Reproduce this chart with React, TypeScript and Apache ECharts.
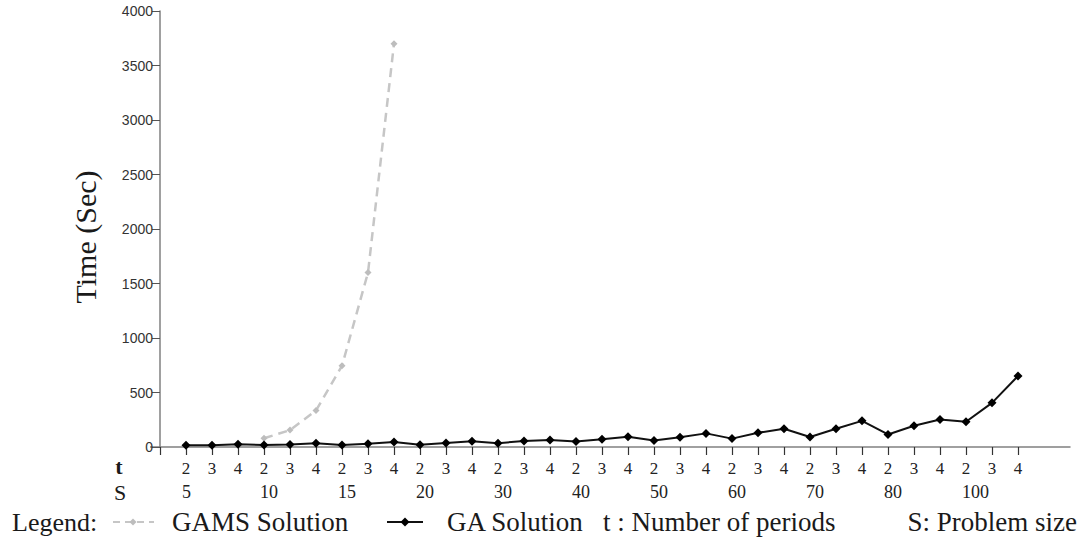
import React, { useEffect, useRef } from "react";
import * as echarts from "echarts";

// Problem sizes (S) and number of periods (t)
const S_SIZES = [5, 10, 15, 20, 30, 40, 50, 60, 70, 80, 100];
const T_PERIODS = [2, 3, 4];

// Solution time (sec), one value per (S, t) pair, in order S then t
const GA_TIME = [
  15, 15, 25,
  18, 22, 35,
  18, 30, 46,
  20, 37, 52,
  35, 55, 65,
  50, 72, 93,
  60, 90, 125,
  77, 130, 168,
  92, 168, 240,
  115, 195, 252,
  232, 405, 651,
];
const GAMS_TIME: (number | null)[] = [
  null, null, null,
  80, 155, 335,
  745, 1600, 3700,
  null, null, null,
  null, null, null,
  null, null, null,
  null, null, null,
  null, null, null,
  null, null, null,
  null, null, null,
  null, null, null,
];

const Y_MIN = 0;
const Y_MAX = 4000;
const Y_STEP = 500;

const SERIF = '"Liberation Serif", "Times New Roman", serif';
const SANS = '"Liberation Sans", Arial, sans-serif';

export default function App() {
  const ref = useRef<HTMLDivElement>(null);

  useEffect(() => {
    if (!ref.current) return;
    const chart = echarts.init(ref.current, undefined, { renderer: "svg" });

    const dataCats: string[] = [];
    S_SIZES.forEach((s) => T_PERIODS.forEach((t) => dataCats.push(`${s}-${t}`)));
    const cats = ["p0", ...dataCats, "p1", "p2"];
    const pad = (arr: (number | null)[]) => [null, ...arr, null, null];

    const isPad = (v: string) => v.startsWith("p");

    const diamond = (cx: number, cy: number, r: number) => [
      [cx, cy - r],
      [cx + r, cy],
      [cx, cy + r],
      [cx - r, cy],
    ];

    const legendY = 522;
    const txt = (
      text: string,
      x: number,
      y: number,
      size = 27,
      weight = "normal",
      align = "left"
    ) => ({
      type: "text",
      x,
      y,
      style: {
        text,
        fill: "#1a1a1a",
        font: `${weight} ${size}px ${SERIF}`,
        textVerticalAlign: "middle",
        textAlign: align,
      },
    });

    chart.setOption({
      animation: false,
      backgroundColor: "#ffffff",
      grid: {
        left: 160,
        right: 14,
        top: 11,
        bottom: 95,
        outerBoundsMode: "none",
      },
      xAxis: [
        {
          type: "category",
          data: cats,
          boundaryGap: false,
          position: "bottom",
          axisLine: { lineStyle: { color: "#808080", width: 1.5 } },
          axisTick: {
            interval: (_i: number, v: string) => !isPad(v) || v === "p0",
            length: 8,
            lineStyle: { color: "#333", width: 1.2 },
          },
          axisLabel: {
            interval: 0,
            formatter: (v: string) => (isPad(v) ? "" : v.split("-")[1]),
            fontFamily: SERIF,
            fontSize: 17,
            color: "#222",
            margin: 13,
          },
          splitLine: { show: false },
        },
        {
          type: "category",
          data: cats,
          boundaryGap: false,
          position: "bottom",
          axisLine: { show: false },
          axisTick: { show: false },
          axisLabel: {
            interval: 0,
            formatter: (v: string) => {
              if (isPad(v)) return "";
              const [s, t] = v.split("-");
              return t === String(T_PERIODS[0]) ? s : "";
            },
            align: "left",
            padding: [0, 0, 0, -4],
            fontFamily: SERIF,
            fontSize: 18,
            color: "#222",
            margin: 36,
          },
          splitLine: { show: false },
        },
      ],
      yAxis: {
        type: "value",
        min: Y_MIN,
        max: Y_MAX,
        interval: Y_STEP,
        name: "Time (Sec)",
        nameLocation: "middle",
        nameGap: 60,
        nameTextStyle: {
          fontFamily: SERIF,
          fontSize: 30,
          color: "#1a1a1a",
          padding: [0, 16, 0, 0],
        },
        axisLine: { show: true, lineStyle: { color: "#808080", width: 1.5 } },
        axisTick: { show: true, length: 8, lineStyle: { color: "#555" } },
        axisLabel: {
          fontFamily: SANS,
          fontSize: 14,
          color: "#333",
          margin: 7,
          formatter: (v: number) => String(v),
        },
        splitLine: { show: false },
      },
      series: [
        {
          name: "GAMS Solution",
          type: "line",
          data: pad(GAMS_TIME),
          connectNulls: false,
          symbol: "diamond",
          symbolSize: 7,
          itemStyle: { color: "#bdbdbd" },
          lineStyle: { color: "#c6c6c6", width: 2.5, type: [9, 6] },
          z: 2,
        },
        {
          name: "GA Solution",
          type: "line",
          data: pad(GA_TIME),
          symbol: "diamond",
          symbolSize: 9,
          itemStyle: { color: "#000" },
          lineStyle: { color: "#111", width: 2 },
          z: 3,
        },
      ],
      graphic: [
        {
          type: "line",
          shape: { x1: 150, y1: 447, x2: 160, y2: 447 },
          style: { stroke: "#808080", lineWidth: 1.5 },
        },
        txt("t", 119, 466, 22, "bold", "center"),
        txt("S", 120, 492, 22, "normal", "center"),
        txt("Legend:", 12, legendY, 26),
        {
          type: "line",
          shape: { x1: 113, y1: legendY, x2: 154, y2: legendY },
          style: { stroke: "#c6c6c6", lineWidth: 2, lineDash: [7, 5] },
        },
        {
          type: "polygon",
          shape: { points: diamond(133, legendY, 3.5) },
          style: { fill: "#bdbdbd" },
        },
        txt("GAMS Solution", 172, legendY),
        {
          type: "line",
          shape: { x1: 387, y1: legendY, x2: 423, y2: legendY },
          style: { stroke: "#111", lineWidth: 2 },
        },
        {
          type: "polygon",
          shape: { points: diamond(405, legendY, 4.5) },
          style: { fill: "#000" },
        },
        txt("GA Solution", 447, legendY),
        txt("t : Number of periods", 603, legendY),
        txt("S: Problem size", 1077, legendY, 27, "normal", "right"),
      ],
    });

    return () => chart.dispose();
  }, []);

  return (
    <div
      ref={ref}
      style={{ position: "absolute", left: 0, top: 0, width: 1084, height: 542 }}
    />
  );
}
